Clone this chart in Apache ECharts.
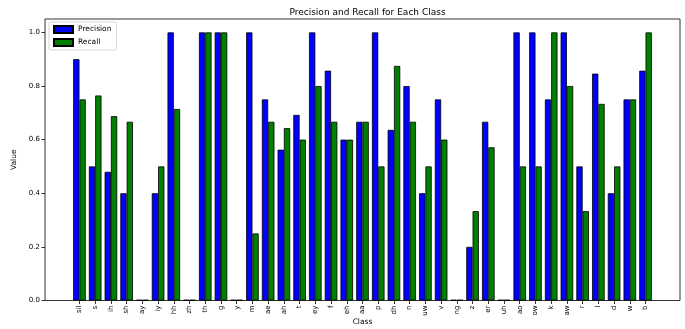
<!DOCTYPE html>
<html>
<head>
<meta charset="utf-8">
<script src="https://cdn.jsdelivr.net/npm/echarts@6/dist/echarts.min.js"></script>
<style>html,body{margin:0;padding:0;background:#fff}#c{width:685px;height:329px}</style>
</head>
<body>
<div id="c"></div>
<script>
const categories = ['sil','s','ih','sh','ay','iy','hh','zh','th','g','y','m','ae','ah','t','ey','f','eh','aa','p','dh','n','uw','v','ng','z','er','uh','ao','ow','k','aw','r','l','d','w','b'];
const precision = [0.9,0.5,0.48,0.4,0,0.4,1.0,0,1.0,1.0,0,1.0,0.75,0.5625,0.6923,1.0,0.8571,0.6,0.6667,1.0,0.6364,0.8,0.4,0.75,0,0.2,0.6667,0,1.0,1.0,0.75,1.0,0.5,0.8462,0.4,0.75,0.8571];
const recall = [0.75,0.7647,0.6875,0.6667,0,0.5,0.7143,0,1.0,1.0,0,0.25,0.6667,0.6429,0.6,0.8,0.6667,0.6,0.6667,0.5,0.875,0.6667,0.5,0.6,0,0.3333,0.5714,0,0.5,0.5,1.0,0.8,0.3333,0.7333,0.5,0.75,1.0];
const yTicks = [0, 0.2, 0.4, 0.6, 0.8, 1.0];

const font = 'DejaVu Sans';
const chart = echarts.init(document.getElementById('c'));
chart.setOption({
  animation: false,
  textStyle: { fontFamily: font },
  title: {
    text: 'Precision and Recall for Each Class',
    left: 362.5, textAlign: 'center', top: 3,
    textStyle: { fontSize: 9, fontWeight: 'normal', color: '#000', fontFamily: font }
  },
  legend: {
    orient: 'vertical', left: 49, top: 22,
    itemWidth: 19, itemHeight: 7, itemGap: 4,
    padding: [3, 5, 3, 4],
    borderColor: '#cccccc', borderWidth: 0.8, borderRadius: 2,
    backgroundColor: 'rgba(255,255,255,0.8)',
    textStyle: { fontSize: 7.5, color: '#000', fontFamily: font },
    data: [{ name: 'Precision', icon: 'rect' }, { name: 'Recall', icon: 'rect' }]
  },
  grid: [
    { left: 45, right: 5, top: 19, bottom: 28.5, show: true, borderColor: '#000', borderWidth: 0.8, containLabel: false, outerBoundsMode: 'none' },
    { left: 71.6, right: 31.6, top: 19, bottom: 28.5, containLabel: false, outerBoundsMode: 'none' }
  ],
  xAxis: [
    { gridIndex: 0, type: 'value', min: 0, max: 1, show: false },
    {
      gridIndex: 1, type: 'category', data: categories, boundaryGap: true,
      name: 'Class', nameLocation: 'middle', nameGap: 18, nameMoveOverlap: false,
      nameTextStyle: { fontSize: 7.5, color: '#000', fontFamily: font },
      axisLine: { show: false },
      axisTick: { show: true, alignWithLabel: true, length: 3.5, lineStyle: { color: '#000', width: 0.8 } },
      axisLabel: { rotate: 90, fontSize: 7, color: '#000', margin: 5, interval: 0, fontFamily: font },
      splitLine: { show: false }
    }
  ],
  yAxis: [
    {
      gridIndex: 0, type: 'value', min: 0, max: 1.05,
      name: 'Value', nameLocation: 'middle', nameRotate: 90, nameGap: 26,
      nameTextStyle: { fontSize: 7.5, color: '#000', fontFamily: font },
      axisLine: { show: false },
      axisTick: { show: true, length: 3.5, lineStyle: { color: '#000', width: 0.8 }, customValues: yTicks },
      axisLabel: { fontSize: 7, color: '#000', margin: 5, fontFamily: font, customValues: yTicks, formatter: v => v.toFixed(1) },
      splitLine: { show: false }
    },
    { gridIndex: 1, type: 'value', min: 0, max: 1.05, show: false }
  ],
  series: [
    {
      name: 'Precision', type: 'bar', xAxisIndex: 1, yAxisIndex: 1,
      data: precision, barWidth: 6.29, barGap: '0%', barMinHeight: 0.6,
      itemStyle: { color: '#0000ff', borderColor: '#000', borderWidth: 0.8 }
    },
    {
      name: 'Recall', type: 'bar', xAxisIndex: 1, yAxisIndex: 1,
      data: recall, barWidth: 6.29, barGap: '0%', barMinHeight: 0.6,
      itemStyle: { color: '#008000', borderColor: '#000', borderWidth: 0.8 }
    }
  ]
});
</script>
</body>
</html>
